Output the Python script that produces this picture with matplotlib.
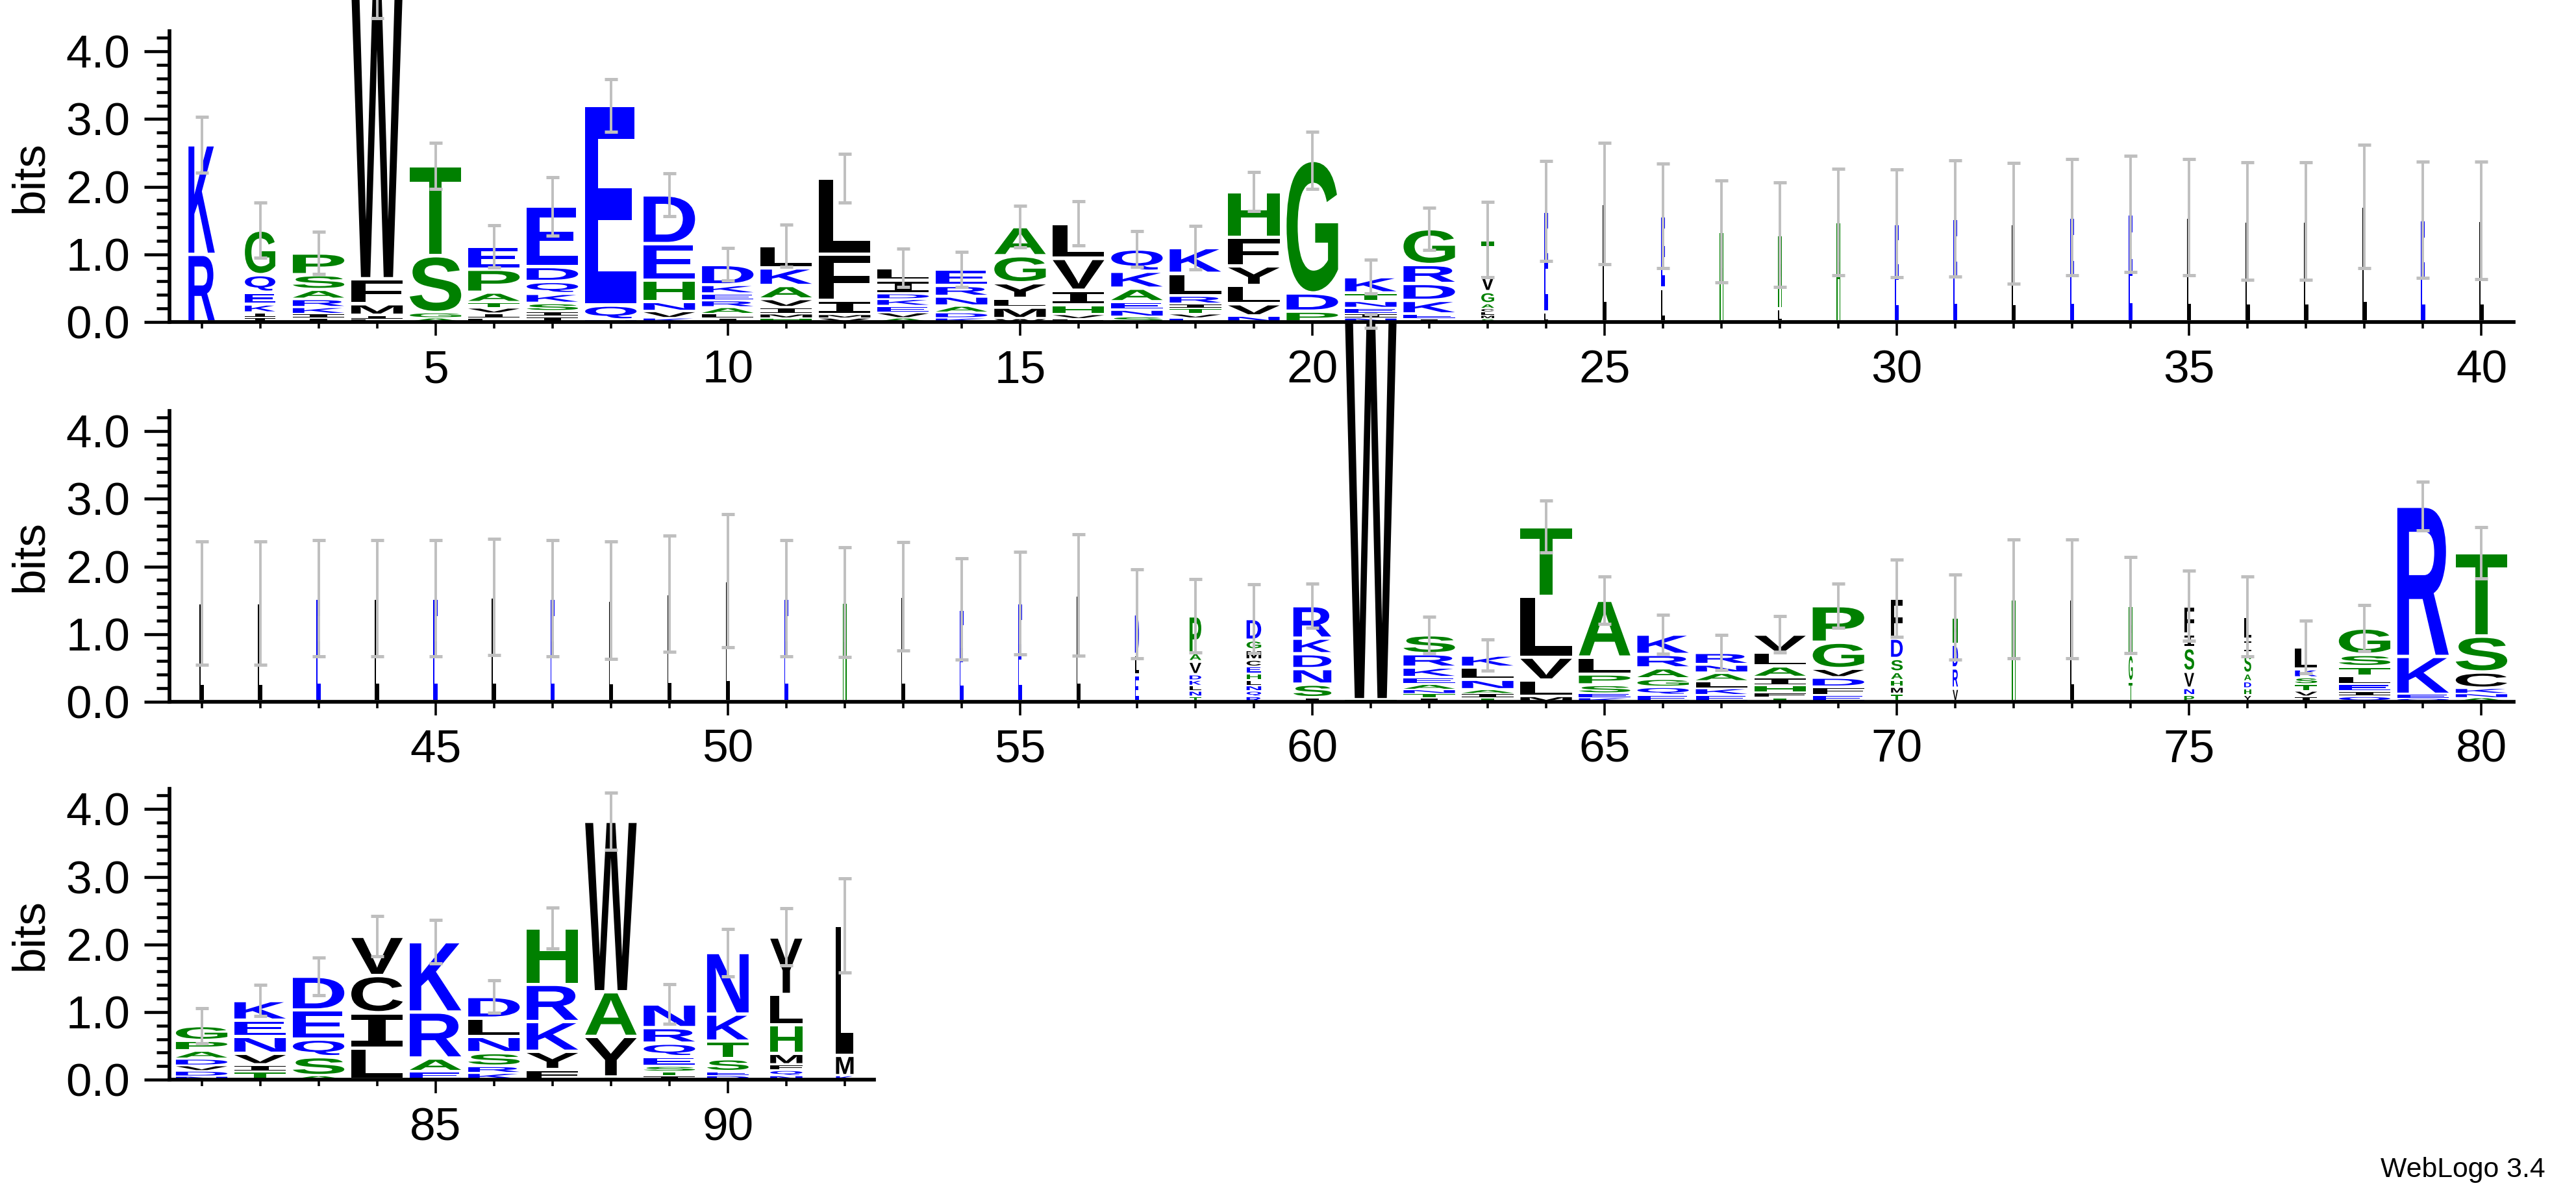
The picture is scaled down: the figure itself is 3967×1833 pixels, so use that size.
import matplotlib
matplotlib.use("Agg")
import matplotlib.pyplot as plt
from matplotlib.textpath import TextPath
from matplotlib.patches import PathPatch
from matplotlib.font_manager import FontProperties
from matplotlib.transforms import Affine2D
from matplotlib.ticker import MultipleLocator

plt.rcParams['font.family'] = ['Liberation Sans', 'DejaVu Sans']

# letter stacks, bottom to top, "letter+height in bits"
stacks = [
    "R1.0 K1.62", "I.07 I.07 K.12 E.18 Q.26 G.66", "I.06 I.06 K.1 R.12 A.14 S.22 P.32",
    "L.04 I.06 M.17 F.37 W4.3", "A.06 G.08 S.84 T1.33", "L.06 I.07 V.08 T.08 A.15 P.34 E.34",
    "I.08 I.08 S.12 K.14 Q.18 D.22 E.89", "N.03 Q.22 E2.95", "K.06 V.1 N.14 H.32 E.54 D.72",
    "I.06 L.06 A.1 R.1 E.1 K.13 D.3", "H.06 M.06 I.1 V.12 A.2 K.26 L.33", "V.06 M.05 I.21 F.68 L1.13",
    "A.06 V.08 E.1 K.1 D.08 I.2 L.18", "K.06 D.08 A.1 N.14 R.16 E.24", "W.05 M.17 L.13 Y.23 G.4 A.43",
    "F.05 V.06 H.14 I.22 V.47 L.52", "S.08 N.1 E.12 A.2 K.25 Q.33", "E.06 V.06 T.08 I.07 R.12 L.33 K.38",
    "N.09 V.18 L.27 Y.29 F.42 H.68", "P.16 D.27 G1.96", "N.06 I.06 E.09 N.1 T.12 K.24",
    "I.05 E.07 K.2 D.25 R.28 G.53", "S.05 M.05 L.05 C.05 A.07 G.18 V.25 T.52",
    "L.15 E1.49", "L1.75", "L.5 E1.07", "H1.34", "L.2 H1.09", "H1.48", "E1.46", "E1.53",
    "L1.46", "E1.55", "E1.6", "L1.55", "L1.49", "L1.49", "L1.71", "E1.51", "L1.5",
    "L1.46", "L1.46", "E1.53", "L1.53", "E1.53", "L1.55", "E1.53", "L1.5", "L1.6", "L1.79",
    "E1.53", "H1.47", "L1.56", "E1.37", "E1.46", "L1.58",
    "E.4 L.3 D.6", "T.08 N.08 L.08 K.08 D.08 V.2 A.12 P.55",
    "R.08 Q.08 N.08 L.08 H.1 E.1 C.1 M.15 G.14 D.32", "I.06 S.2 N.23 D.22 K.23 R.48",
    "T.03 W5.6", "I.06 T.06 N.06 A.08 E.1 K.15 R.2 S.28", "T.06 I.06 A.06 N.15 L.18 K.18",
    "M.08 L.24 V.34 L.9 T1.03", "K.06 E.06 S.13 P.16 L.25 A.84", "E.1 Q.12 G.12 A.16 R.2 K.3",
    "E.1 K.1 L.1 A.13 N.12 R.18", "T.06 F.08 H.1 I.12 A.17 L.2 V.27", "E.1 F.12 D.14 V.13 G.39 P.54",
    "T.12 M.1 H.1 A.12 S.2 D.3 F.59", "V.2 R.3 D.35 H.4", "H1.52", "L1.52", "T.3 G.4 H.73",
    "P.1 N.1 V.25 S.35 I.2 F.42", "Y.1 H.1 D.1 A.12 S.3 I.2 L.34", "I.08 V.08 T.1 S.1 K.12 L.33",
    "Q.08 I.08 E.1 L.12 T.14 S.18 G.39", "Q.05 E.06 K.56 R2.22", "A.06 N.06 K.08 C.24 S.53 T1.23",
    "N.05 D.08 V.08 D.1 A.12 P.15 G.22", "T.12 I.1 V.17 N.25 E.24 K.29", "A.06 S.28 Q.26 E.43 D.5",
    "L.47 I.52 C.55 V.58", "E.12 A.2 R.68 K1.04", "K.1 R.1 S.2 N.24 L.27 D.32",
    "F.15 Y.27 K.44 R.55 H.83", "T.04 Y.6 A.66 W2.52", "I.06 T.06 S.08 E.14 Q.2 R.23 N.35",
    "D.06 E.06 S.19 T.26 K.4 N.91", "N.06 Q.08 F.08 M.17 H.42 L.45 Y.85", "K.06 M.3 L1.92",
]

# half-length of the error bar at each position
err_half = [
    .41, .41, .31, .45, .34, .31, .43, .39, .32, .24, .31, .36, .28, .26, .31, .33, .26, .32, .29, .42,
    .25, .31, .56, .74, .9, .77, .75, .77, .79, .8, .86, .89, .86, .86, .86, .87, .87, .91, .86, .87,
    .91, .91, .86, .86, .86, .86, .86, .87, .86, .98, .86, .81, .8, .75, .76, .9, .66, .54, .51, .33,
    .1, .27, .23, .38, .35, .29, .26, .27, .33, .57, .63, .88, .88, .71, .52, .59, .39, .34, .36, .38,
    .26, .23, .28, .3, .32, .24, .3, .42, .29, .35, .42, .7,
]

# column widths that differ from the full width (gappy columns)
narrow = {1: .45, 2: .52, 23: .22, 57: .07, 58: .2, 59: .25, 60: .65, 70: .2, 71: .09,
          72: .07, 73: .07, 74: .07, 75: .17, 76: .12, 77: .38, 90: .71, 91: .55, 92: .3}
for p in range(24, 57):
    narrow[p] = .07

BLUE, GREEN, BLACK = '#0000ff', '#008000', '#000000'
colors = {}
for c in "KRDENQ":
    colors[c] = BLUE
for c in "GSTAHP":
    colors[c] = GREEN

fp = FontProperties(family='Liberation Sans', weight='bold')
fp_i = FontProperties(family='DejaVu Sans Mono', weight='bold')


def draw_letter(ax, ch, x, y, w, h):
    tp = TextPath((0, 0), ch, size=1, prop=fp_i if ch == 'I' else fp)
    bb = tp.get_extents()
    gh = h - min(0.05, 0.3 * h)
    tr = Affine2D().translate(-bb.x0, -bb.y0).scale(w / bb.width, gh / bb.height)
    tr = tr.translate(x - w / 2, y + (h - gh) / 2)
    ax.add_patch(PathPatch(tr.transform_path(tp), fc=colors.get(ch, BLACK), ec='none',
                           clip_on=False, zorder=2))


W, H = 3967, 1833
fig = plt.figure(figsize=(W / 256.6, H / 256.6), dpi=256.6)
left = 261 / W
rows = [(1, 40, 0.7294, 0.910), (41, 80, 0.4103, 0.910), (81, 92, 0.0927, 0.2735)]

for start, end, bottom, width in rows:
    ax = fig.add_axes([left, bottom, width, 448 / H])
    for pos in range(start, end + 1):
        w = narrow.get(pos, .88)
        y = 0.0
        for item in stacks[pos - 1].split():
            h = float(item[1:])
            draw_letter(ax, item[0], pos, y, w, h)
            y += h
        e = err_half[pos - 1]
        ax.plot([pos, pos], [y - e, y + e], color='#bfbfbf', lw=1.1, zorder=3, clip_on=False,
                marker='_', ms=5.5, mew=1.4, solid_capstyle='butt')
    ax.set_xlim(start - 0.55, start + 39.55 if end == start + 39 else end + 0.5)
    for s in ('top', 'right'):
        ax.spines[s].set_visible(False)
    for s in ('left', 'bottom'):
        ax.spines[s].set_linewidth(1.6)
    ax.yaxis.set_major_locator(MultipleLocator(1.0))
    ax.yaxis.set_minor_locator(MultipleLocator(0.2))
    ax.set_ylim(0, 4.3)
    ax.set_yticks([0, 1, 2, 3, 4])
    ax.set_yticklabels(["0.0", "1.0", "2.0", "3.0", "4.0"])
    ax.xaxis.set_major_locator(MultipleLocator(5))
    ax.xaxis.set_minor_locator(MultipleLocator(1))
    ax.tick_params(axis='y', which='major', length=11, width=1.3, labelsize=20, pad=6)
    ax.tick_params(axis='y', which='minor', length=5.5, width=1.3)
    ax.tick_params(axis='x', which='major', length=5.8, width=1.0, labelsize=20, pad=6)
    ax.tick_params(axis='x', which='minor', length=2.8, width=1.0)
    ax.set_ylabel('bits', fontsize=20, labelpad=6)

fig.text(0.988, 0.006, 'WebLogo 3.4', ha='right', va='bottom', fontsize=12)
fig.savefig('out.png', dpi=256.6)
